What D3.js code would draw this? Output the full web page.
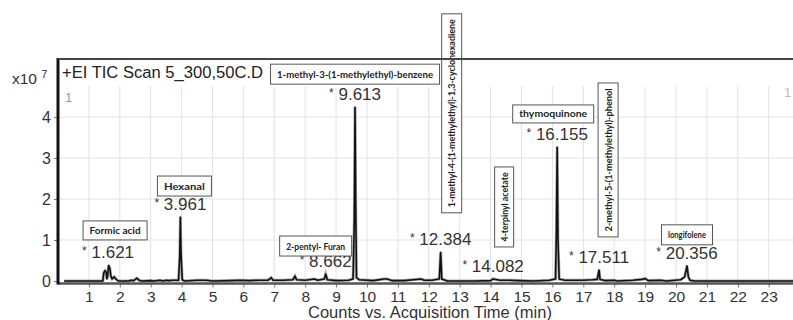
<!DOCTYPE html>
<html>
<head>
<meta charset="utf-8">
<script src="https://cdn.jsdelivr.net/npm/d3@7"></script>
<style>
  html, body { margin: 0; padding: 0; background: #fff; }
  svg { display: block; font-family: "Liberation Sans", Arial, sans-serif; }
</style>
</head>
<body>
<svg id="chart" width="793" height="320"></svg>
<script>
// Total ion chromatogram: time (min) vs counts (x10^7)
const traceTimes = [0.2, 1.45, 1.48, 1.52, 1.56, 1.58, 1.6, 1.64, 1.68, 1.71, 1.75, 1.82, 1.86, 1.95,
  2.3, 2.35, 2.45, 2.55, 2.62, 2.7, 3.0, 3.1, 3.3, 3.4, 3.5, 3.6, 3.7, 3.9, 3.94, 3.961, 3.98, 4.02, 4.1,
  4.5, 4.8, 5.0, 5.6, 5.9, 6.2, 6.5, 6.8, 6.9, 6.96, 7.3, 7.6, 7.67, 7.72, 8.0, 8.3, 8.4, 8.62, 8.662, 8.72,
  9.0, 9.4, 9.55, 9.59, 9.613, 9.635, 9.66, 9.75, 10.2, 10.55, 10.65, 10.8, 11.2, 11.75, 11.85, 12.1,
  12.34, 12.384, 12.42, 12.6, 13.5, 14.0, 14.082, 14.3, 14.6, 14.9, 15.4, 15.9, 16.1, 16.13, 16.155, 16.18,
  16.22, 16.4, 16.7, 17.0, 17.3, 17.45, 17.511, 17.54, 17.7, 18.0, 18.1, 18.6, 18.9, 19.0, 19.1, 19.5,
  19.7, 20.15, 20.28, 20.356, 20.4, 20.45, 20.6, 24];
const traceCounts = [0, 0, 0.2, 0.25, 0.22, 0.05, 0.1, 0.38, 0.3, 0.12, 0.05, 0.1, 0.06, 0,
  0, 0.02, 0.01, 0.07, 0.02, 0, 0.01, 0, 0.02, 0, 0.02, 0.01, 0.02, 0.02, 0.6, 1.56, 0.7, 0.03, 0,
  0.02, 0.02, 0, 0.01, 0.02, 0.01, 0.02, 0.02, 0.08, 0.02, 0.02, 0.03, 0.12, 0.03, 0.02, 0.05, 0.02, 0.05, 0.17, 0.03,
  0.01, 0.02, 0.05, 1.5, 4.24, 1.8, 0.08, 0.03, 0.01, 0.05, 0.05, 0.01, 0.01, 0.05, 0.02, 0.02,
  0.05, 0.7, 0.05, 0, 0, 0.01, 0.05, 0.02, 0.02, 0.01, 0, 0.02, 0.05, 1.2, 3.27, 1.0,
  0.05, 0.02, 0.02, 0.02, 0.03, 0.04, 0.27, 0.04, 0.01, 0.02, 0, 0.02, 0.04, 0.06, 0.01, 0.02,
  0, 0.03, 0.1, 0.37, 0.1, 0.02, 0, 0];

// Labelled peaks: retention time, apex counts, compound name, name box orientation
const peakTimes = [1.621, 3.961, 8.662, 9.613, 12.384, 14.082, 16.155, 17.511, 20.356];
const peakCounts = [0.38, 1.56, 0.17, 4.24, 0.70, 0.05, 3.27, 0.27, 0.37];
const peakLabels = ["1.621", "3.961", "8.662", "9.613", "12.384", "14.082", "16.155", "17.511", "20.356"];
const compoundNames = ["Formic acid", "Hexanal", "2-pentyl- Furan",
  "1-methyl-3-(1-methylethyl)-benzene", "1-methyl-4-(1-methylethyl)-1,3-cyclohexadiene",
  "4-terpinyl acetate", "thymoquinone", "2-methyl-5-(1-methylethyl)-phenol", "longifolene"];
const nameVertical = [false, false, false, false, true, true, false, true, false];

const xTicks = d3.range(1, 24);
const yTicks = [0, 1, 2, 3, 4];

// Name box placement relative to each peak apex (pixels): dx, dy of centre, width, height
const boxLayout = [
  [7, -35, 64, 19], [4, -31, 54, 20], [-10, -28, 72, 20], [0, -33, 169, 20],
  [11, -139, 20, 199], [11, -72, 19, 80], [-4, -33, 81, 18], [9, -110, 20, 154], [0, -31, 51, 20]
];

const svg = d3.select("#chart");
const left = 58, bottom = 281, axisY = 283.5, frameTop = 59;
const x = d3.scaleLinear().domain([0, 24]).range([left, left + 24 * 30.9]);
const y = d3.scaleLinear().domain([0, 4]).range([bottom, 117]);
const gridTop = y(4.75);

// grid
const grid = svg.append("g").attr("stroke", "#e2e2e2").attr("stroke-width", 1);
grid.selectAll("line.v").data(xTicks).join("line")
  .attr("x1", d => x(d)).attr("x2", d => x(d))
  .attr("y1", gridTop).attr("y2", bottom);
grid.selectAll("line.h").data(yTicks.slice(1)).join("line")
  .attr("x1", left).attr("x2", 793)
  .attr("y1", d => y(d)).attr("y2", d => y(d));

// trace
svg.append("clipPath").attr("id", "plot")
  .append("rect").attr("x", left).attr("y", frameTop).attr("width", 793 - left).attr("height", axisY - frameTop);
const points = traceTimes.map((t, i) => [t, traceCounts[i]]);
const line = d3.line().x(d => x(d[0])).y(d => y(d[1]));
svg.append("path").datum(points)
  .attr("clip-path", "url(#plot)")
  .attr("fill", "none").attr("stroke", "#aaa").attr("stroke-width", 3)
  .attr("d", line);
svg.append("path").datum(points)
  .attr("clip-path", "url(#plot)")
  .attr("fill", "none").attr("stroke", "#111").attr("stroke-width", 1.6)
  .attr("stroke-linejoin", "round")
  .attr("d", line);

// axes
const xAxis = svg.append("g").attr("transform", `translate(0,${axisY})`)
  .call(d3.axisBottom(x).tickValues(xTicks).tickSize(4).tickPadding(3).tickFormat(d3.format("d")));
xAxis.select(".domain").remove();
xAxis.selectAll("line").attr("stroke", "#777");
xAxis.selectAll("text").attr("font-size", 15.5).attr("fill", "#333")
  .attr("font-family", "Liberation Sans, Arial, sans-serif");

const yAxis = svg.append("g").attr("transform", `translate(${left},0)`)
  .call(d3.axisLeft(y).tickValues(yTicks).tickSize(4).tickPadding(3).tickFormat(d3.format("d")));
yAxis.select(".domain").remove();
yAxis.selectAll("line").attr("stroke", "#777");
yAxis.selectAll("text").attr("font-size", 16).attr("fill", "#333")
  .attr("font-family", "Liberation Sans, Arial, sans-serif");

// frame
svg.append("line").attr("x1", left).attr("x2", 793).attr("y1", axisY).attr("y2", axisY)
  .attr("stroke", "#555").attr("stroke-width", 2.5);
svg.append("line").attr("x1", left).attr("x2", left).attr("y1", frameTop - 1).attr("y2", axisY + 1)
  .attr("stroke", "#111").attr("stroke-width", 3);

// peak retention time labels
const lbl = svg.append("g").attr("font-size", 17).attr("fill", "#333").attr("text-anchor", "middle");
peakTimes.forEach((t, i) => {
  const tx = lbl.append("text").attr("x", x(t)).attr("y", y(peakCounts[i]) - 7);
  tx.append("tspan").attr("font-size", 12).attr("dy", -3).text("*");
  tx.append("tspan").attr("dy", 3).text("\u00a0" + peakLabels[i]);
});

// compound name boxes
const boxes = svg.append("g");
peakTimes.forEach((t, i) => {
  const [dx, dy, w, h] = boxLayout[i];
  const cx = x(t) + dx, cy = y(peakCounts[i]) + dy;
  boxes.append("rect").attr("x", cx - w / 2).attr("y", cy - h / 2)
    .attr("width", w).attr("height", h)
    .attr("fill", "#fff").attr("stroke", "#555").attr("stroke-width", 1);
  const len = nameVertical[i] ? h - 11 : w - 13;
  boxes.append("text")
    .attr("transform", nameVertical[i] ? `translate(${cx + 3.5},${cy}) rotate(-90)` : `translate(${cx},${cy + 3.5})`)
    .attr("text-anchor", "middle").attr("font-size", 10).attr("font-weight", "bold")
    .attr("font-family", "Lato, 'Liberation Sans', sans-serif")
    .attr("fill", "#222")
    .attr("textLength", len)
    .attr("lengthAdjust", "spacingAndGlyphs")
    .text(compoundNames[i]);
});

// top frame line over everything
svg.append("line").attr("x1", left).attr("x2", 793).attr("y1", frameTop).attr("y2", frameTop)
  .attr("stroke", "#444").attr("stroke-width", 2);

// titles
svg.append("text").attr("x", 62).attr("y", 78).attr("font-size", 16).attr("fill", "#222")
  .attr("textLength", 201).attr("lengthAdjust", "spacingAndGlyphs")
  .text("+EI TIC Scan 5_300,50C.D");
svg.append("text").attr("x", 65).attr("y", 102).attr("font-size", 13).attr("fill", "#999").text("1");
svg.append("text").attr("x", 784).attr("y", 97).attr("font-size", 13).attr("fill", "#bbb").text("1");
const ex = svg.append("text").attr("x", 12).attr("y", 84).attr("font-size", 15.5).attr("fill", "#333");
ex.append("tspan").text("x10 ");
ex.append("tspan").attr("font-size", 11).attr("dy", -6).text("7");
svg.append("text").attr("x", 430).attr("y", 318).attr("text-anchor", "middle")
  .attr("font-size", 16.5).attr("fill", "#333")
  .text("Counts vs. Acquisition Time (min)");
</script>
</body>
</html>
